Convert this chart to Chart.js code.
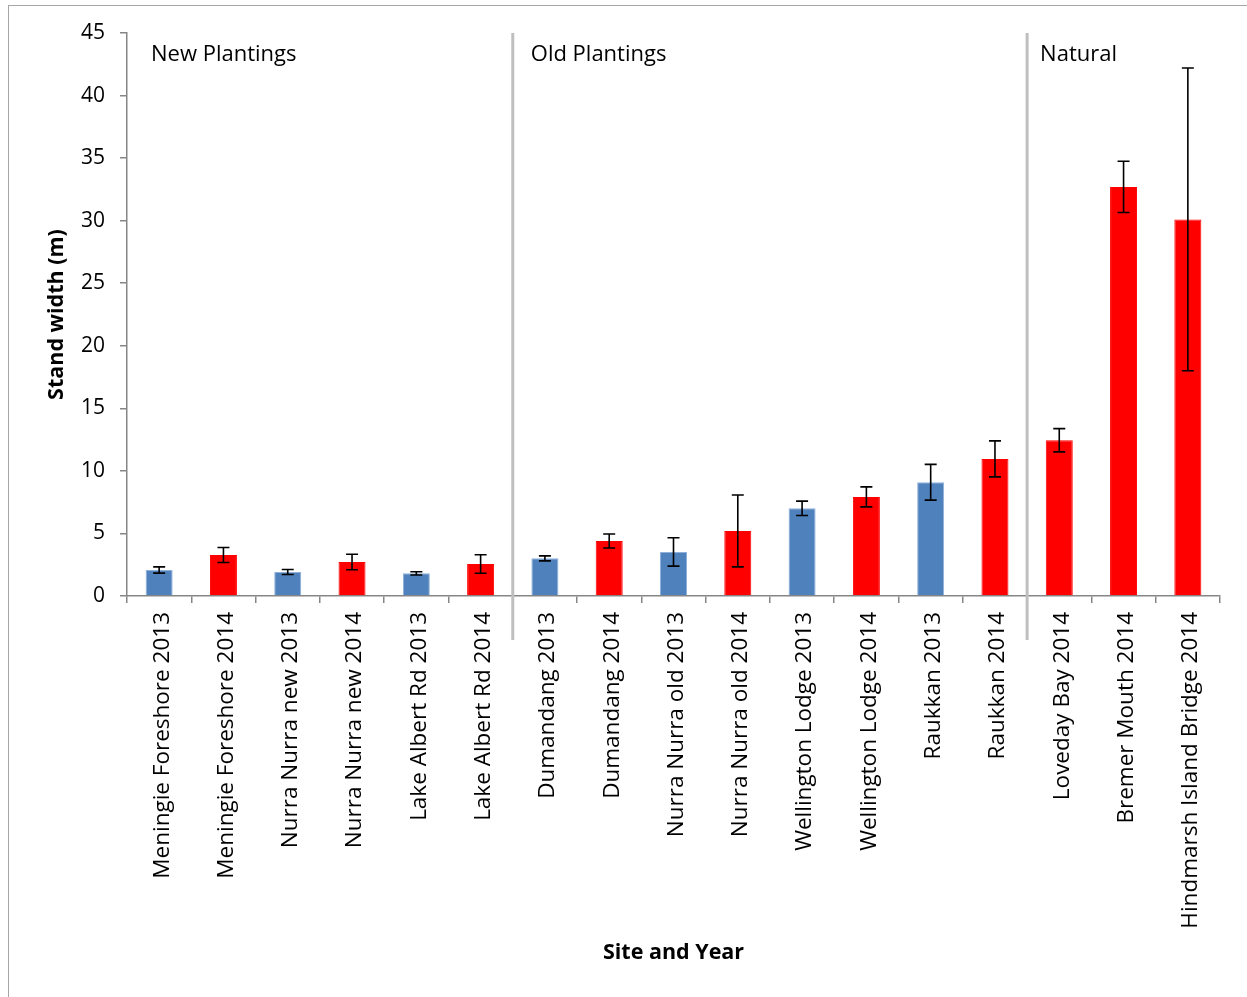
<!DOCTYPE html>
<html lang="en">
<head>
<meta charset="UTF-8">
<title>Stand width by site and year</title>
<script src="https://cdn.jsdelivr.net/npm/chart.js"></script>
<style>
  html, body { margin: 0; padding: 0; background: #fff; }
  #wrap { width: 1247px; height: 997px; }
</style>
</head>
<body>
<div id="wrap"><canvas id="chart" width="1247" height="997"></canvas></div>
<script>
// data
const sites = [
  'Meningie Foreshore 2013', 'Meningie Foreshore 2014',
  'Nurra Nurra new 2013', 'Nurra Nurra new 2014',
  'Lake Albert Rd 2013', 'Lake Albert Rd 2014',
  'Dumandang 2013', 'Dumandang 2014',
  'Nurra Nurra old 2013', 'Nurra Nurra old 2014',
  'Wellington Lodge 2013', 'Wellington Lodge 2014',
  'Raukkan 2013', 'Raukkan 2014',
  'Loveday Bay 2014', 'Bremer Mouth 2014', 'Hindmarsh Island Bridge 2014'
];
const standWidth = [2.08, 3.28, 1.92, 2.72, 1.81, 2.56, 3.01, 4.4, 3.52, 5.2, 7.01, 7.92, 9.09, 10.96, 12.45, 32.7, 30.1];
const errors     = [0.25, 0.6, 0.2, 0.62, 0.13, 0.74, 0.2, 0.56, 1.13, 2.87, 0.57, 0.8, 1.43, 1.44, 0.93, 2.05, 12.1];
const groups = [
  { name: 'New Plantings', start: 0 },
  { name: 'Old Plantings', start: 6 },
  { name: 'Natural', start: 14 }
];
const yTicks = [0, 5, 10, 15, 20, 25, 30, 35, 40, 45];

const FONT = 'Open Sans';
const blue = '#4F81BD', red = '#FF0000';
const barColors = sites.map(s => s.endsWith('2013') ? blue : red);
const barBorders = sites.map(s => s.endsWith('2013') ? '#8EB0DB' : red);

// frame round the whole picture
const framePlugin = {
  id: 'frame',
  beforeDraw(chart) {
    const c = chart.ctx;
    c.save();
    c.fillStyle = '#fff';
    c.fillRect(0, 0, chart.width, chart.height);
    c.strokeStyle = '#A6A6A6';
    c.lineWidth = 1;
    c.strokeRect(8.5, 5.5, 1400, 1200);
    c.restore();
  }
};

// error bars, group separators and group names
const extrasPlugin = {
  id: 'extras',
  afterDatasetsDraw(chart) {
    const c = chart.ctx;
    const x = chart.scales.x, y = chart.scales.y;
    c.save();
    c.strokeStyle = '#000';
    c.lineWidth = 1.6;
    standWidth.forEach((v, i) => {
      const px = x.getPixelForValue(i);
      const top = y.getPixelForValue(v + errors[i]);
      const bot = y.getPixelForValue(v - errors[i]);
      c.beginPath();
      c.moveTo(px, top); c.lineTo(px, bot);
      c.moveTo(px - 6, top); c.lineTo(px + 6, top);
      c.moveTo(px - 6, bot); c.lineTo(px + 6, bot);
      c.stroke();
    });
    c.restore();

    c.save();
    groups.forEach(g => {
      let gx;
      if (g.start === 0) {
        gx = chart.chartArea.left + 24;
      } else {
        const sep = (x.getPixelForValue(g.start - 1) + x.getPixelForValue(g.start)) / 2;
        c.strokeStyle = '#BFBFBF';
        c.lineWidth = 3;
        c.beginPath();
        c.moveTo(sep, chart.chartArea.top);
        c.lineTo(sep, chart.chartArea.bottom + 44);
        c.stroke();
        gx = sep + (g.start === 6 ? 18 : 13);
      }
      c.fillStyle = '#000';
      c.font = '22px "' + FONT + '"';
      c.textBaseline = 'middle';
      c.textAlign = 'left';
      c.fillText(g.name, gx, 55);
    });
    c.restore();
  }
};

new Chart(document.getElementById('chart'), {
  type: 'bar',
  data: {
    labels: sites,
    datasets: [{
      label: 'Stand width (m)',
      data: standWidth,
      backgroundColor: barColors,
      borderColor: barBorders,
      borderWidth: 1,
      barPercentage: 0.84,
      categoryPercentage: 0.5
    }]
  },
  options: {
    responsive: false,
    animation: false,
    layout: { padding: { top: 33, right: 27, left: 0, bottom: 0 } },
    plugins: {
      legend: { display: false },
      tooltip: { enabled: false }
    },
    scales: {
      x: {
        afterFit: s => { s.height = 401; },
        grid: { drawOnChartArea: false, tickLength: 7, color: '#868686', lineWidth: 1.5 },
        border: { color: '#868686', width: 1.5 },
        ticks: {
          color: '#000', maxRotation: 90, minRotation: 90, padding: 9, autoSkip: false,
          labelOffset: 3,
          font: { family: FONT, size: 22.5 }
        },
        title: {
          display: true, text: 'Site and Year', color: '#000',
          font: { family: FONT, size: 21.5, weight: 'bold' },
          padding: { top: 0, bottom: 31 }
        }
      },
      y: {
        min: 0, max: 45,
        afterFit: s => { s.width = 127; },
        afterBuildTicks: s => { s.ticks = yTicks.map(v => ({ value: v })); },
        grid: { drawOnChartArea: false, tickLength: 7, color: '#868686', lineWidth: 1.5 },
        border: { color: '#868686', width: 1.5 },
        ticks: { color: '#000', padding: 15, font: { family: FONT, size: 21 } },
        title: {
          display: true, text: 'Stand width (m)', color: '#000',
          font: { family: FONT, size: 21.5, weight: 'bold' },
          padding: { top: 44, bottom: 0 }
        }
      }
    }
  },
  plugins: [framePlugin, extrasPlugin]
});
</script>
</body>
</html>
